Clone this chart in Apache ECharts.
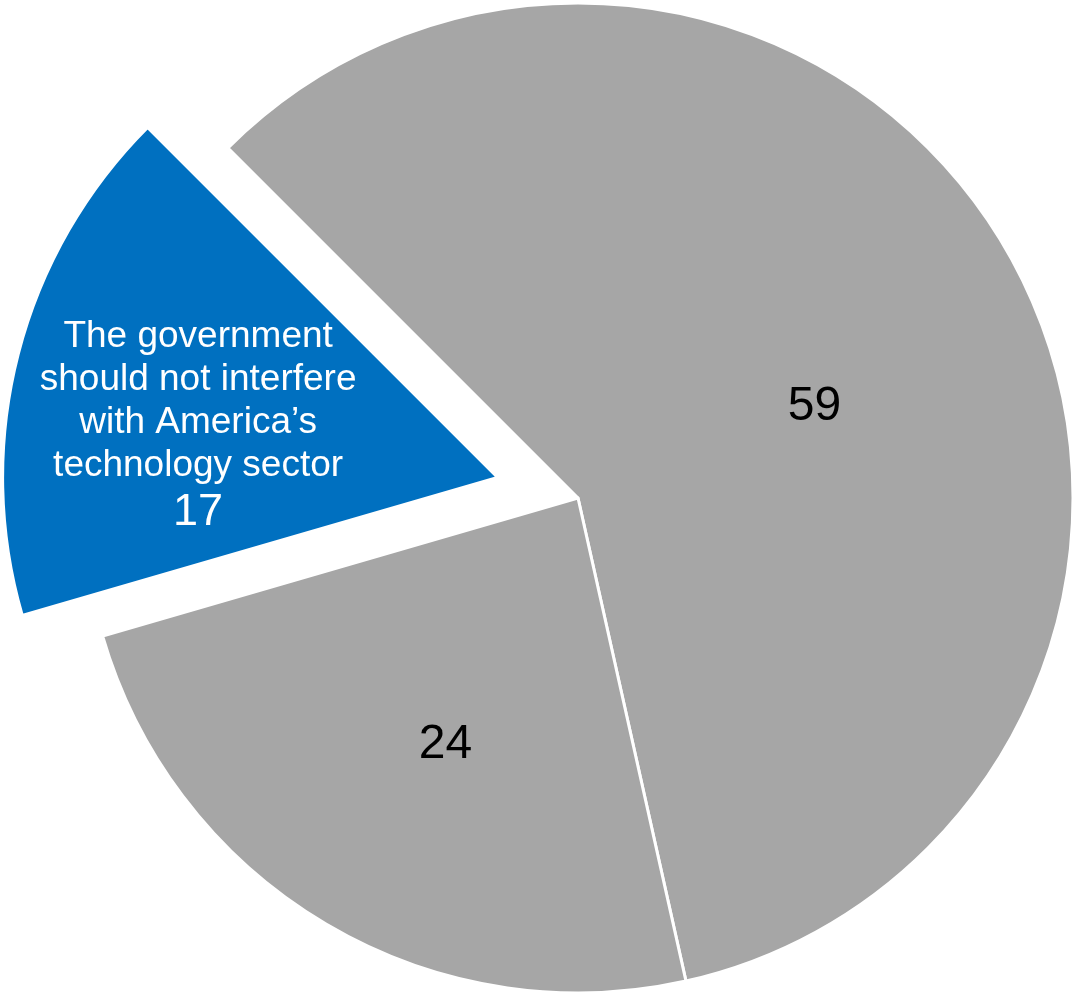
<!DOCTYPE html>
<html>
<head>
<meta charset="utf-8">
<script src="https://cdn.jsdelivr.net/npm/echarts@6/dist/echarts.min.js"></script>
<style>
html,body{margin:0;padding:0;background:#fff;}
#chart{width:1074px;height:995px;}
</style>
</head>
<body>
<div id="chart"></div>
<script>
const categories = ['Other 59', 'Other 24', 'The government should not interfere\nwith America’s technology sector'];
const values = [59, 24, 17];
const labelText = ['59', '24', 'The government\nshould not interfere\nwith America’s\ntechnology sector'];
const colors = ['#A6A6A6', '#A6A6A6', '#0070C0'];

const labelOffsets = [[17, 29], [-5, 31], [-52, 55]];

const data = values.map((v, i) => {
  const white = i === 2;
  const lbl = {
    show: true,
    position: 'inside',
    offset: labelOffsets[i],
    formatter: white ? '{t|' + labelText[i].split('\n').join('}\n{t|') + '}\n{n|' + v + '}' : '{n|' + labelText[i] + '}',
    rich: {
      t: { fontFamily: 'Liberation Sans, Arial, sans-serif', fontSize: 37, lineHeight: 43, color: white ? '#fff' : '#000', align: 'center' },
      n: { fontFamily: 'Liberation Sans, Arial, sans-serif', fontSize: white ? 45 : 48, lineHeight: 50, color: white ? '#fff' : '#000', align: 'center' }
    }
  };
  const item = {
    name: categories[i],
    value: v,
    itemStyle: { color: colors[i] },
    label: lbl,
    select: { label: lbl, itemStyle: { color: colors[i] } }
  };
  if (white) item.selected = true;
  return item;
});

const chart = echarts.init(document.getElementById('chart'), null, { renderer: 'canvas' });
chart.setOption({
  animation: false,
  backgroundColor: '#fff',
  series: [{
    type: 'pie',
    center: [578, 498],
    radius: [0, 495],
    startAngle: 135,
    clockwise: true,
    selectedMode: 'single',
    selectedOffset: 83,
    avoidLabelOverlap: false,
    emphasis: { disabled: true },
    itemStyle: { borderColor: '#fff', borderWidth: 3 },
    label: { show: true, position: 'inside' },
    labelLine: { show: false },
    data: data
  }]
});
</script>
</body>
</html>
